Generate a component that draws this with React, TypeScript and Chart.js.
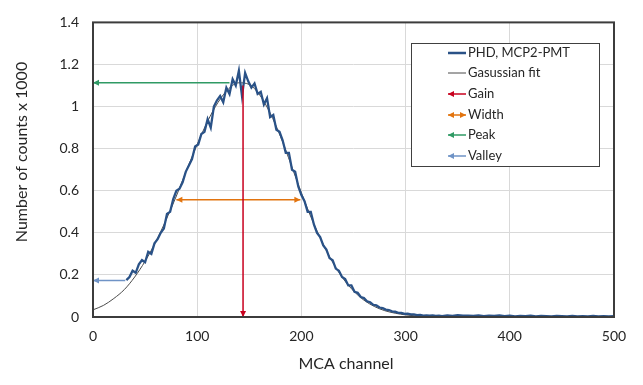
import React, { useEffect, useRef } from 'react';
import { Chart, registerables } from 'chart.js';

Chart.register(...registerables);

// ---------- data ----------
const xTickValues = [0, 100, 200, 300, 400, 500];
const yTickValues = [0, 0.2, 0.4, 0.6, 0.8, 1, 1.2, 1.4];

const legendLabels = ['PHD, MCP2-PMT', 'Gasussian fit', 'Gain', 'Width', 'Peak', 'Valley'];

const fitChannels = [0, 10, 20, 30, 40, 50, 60, 70, 80, 90, 100, 110, 120, 130, 140, 150, 160, 170, 180, 190, 200, 210, 220, 230, 240, 250, 260, 270, 280, 290, 300, 310, 320, 330, 340, 350, 400, 450, 500];
const fitCounts = [0.034, 0.055, 0.088, 0.13, 0.19, 0.265, 0.355, 0.46, 0.575, 0.7, 0.82, 0.93, 1.02, 1.084, 1.113, 1.105, 1.055, 0.969, 0.857, 0.725, 0.59, 0.465, 0.355, 0.26, 0.183, 0.124, 0.08, 0.05, 0.03, 0.018, 0.01, 0.005, 0.003, 0.0015, 0.001, 0, 0, 0, 0];

const phdChannels = [
  32, 35, 38, 41, 44, 47, 50, 53, 56, 59,
  62, 65, 68, 71, 74, 77, 80, 83, 86, 89,
  92, 95, 98, 101, 104, 107, 110, 113, 116, 119,
  122, 125, 128, 131, 134, 137, 140, 143, 146, 149,
  152, 155, 158, 161, 164, 167, 170, 173, 176, 179,
  182, 185, 188, 191, 194, 197, 200, 203, 206, 209,
  212, 215, 218, 221, 224, 227, 230, 233, 236, 239,
  242, 245, 248, 251, 254, 257, 260, 263, 266, 269,
  272, 275, 278, 281, 284, 287, 290, 293, 296, 299,
  302, 305, 308, 311, 314, 317, 320, 323, 326, 329,
  332, 335,
  340, 345, 350, 355, 360, 365, 370, 375, 380, 385,
  390, 395, 400, 405, 410, 415, 420, 425, 430, 435,
  440, 445, 450, 455, 460, 465, 470, 475, 480, 485,
  490, 495, 500,
];
const phdCounts = [
  0.175, 0.19, 0.22, 0.21, 0.25, 0.27, 0.26, 0.31, 0.3, 0.35,
  0.37, 0.4, 0.42, 0.49, 0.5, 0.56, 0.6, 0.61, 0.64, 0.69,
  0.72, 0.75, 0.81, 0.82, 0.87, 0.88, 0.94, 0.9, 1.0, 1.03,
  1.05, 1.02, 1.09, 1.06, 1.13, 1.1, 1.17, 1.05, 1.16, 1.12,
  1.09, 1.11, 1.06, 1.07, 1.01, 1.04, 0.95, 0.96, 0.89, 0.88,
  0.84, 0.78, 0.78, 0.7, 0.69, 0.62, 0.58, 0.55, 0.5, 0.5,
  0.44, 0.4, 0.38, 0.34, 0.32, 0.28, 0.27, 0.23, 0.22, 0.19,
  0.18, 0.15, 0.15, 0.12, 0.115, 0.095, 0.09, 0.075, 0.07, 0.058,
  0.055, 0.045, 0.042, 0.035, 0.033, 0.027, 0.025, 0.02, 0.02, 0.015,
  0.016, 0.012, 0.012, 0.009, 0.01, 0.007, 0.008, 0.006, 0.007, 0.005,
  0.006, 0.004,
  0.008, 0.005, 0.009, 0.006, 0.007, 0.005, 0.008, 0.004, 0.006, 0.005,
  0.007, 0.004, 0.006, 0.003, 0.005, 0.004, 0.006, 0.003, 0.005, 0.004,
  0.003, 0.005, 0.004, 0.003, 0.005, 0.003, 0.004, 0.003, 0.005, 0.003,
  0.004, 0.003, 0.004,
];

// annotation arrows: [start, end] (tip at the end)
const gainX = [144, 144];
const gainY = [1.1, 0];
const widthX = [80, 199];
const widthY = [0.557, 0.557];
const peakX = [131, 0];
const peakY = [1.113, 1.113];
const valleyX = [31, 0];
const valleyY = [0.174, 0.174];

// ---------- styles ----------
const FONT = 'Lato, "Open Sans", sans-serif';
const C_PHD = '#2a5287';
const C_FIT = '#4a4a4a';
const C_GAIN = '#c8001e';
const C_WIDTH = '#e2740f';
const C_PEAK = '#2f9a64';
const C_VALLEY = '#6f93c6';
const C_TEXT = '#262626';

const pts = (xs: number[], ys: number[]) => xs.map((x, i) => ({ x, y: ys[i] }));

function drawHead(ctx: CanvasRenderingContext2D, tx: number, ty: number, fx: number, fy: number, color: string) {
  const a = Math.atan2(ty - fy, tx - fx);
  const len = 6;
  const half = 3;
  const bx = tx - len * Math.cos(a);
  const by = ty - len * Math.sin(a);
  ctx.save();
  ctx.fillStyle = color;
  ctx.beginPath();
  ctx.moveTo(tx, ty);
  ctx.lineTo(bx + half * Math.sin(a), by - half * Math.cos(a));
  ctx.lineTo(bx - half * Math.sin(a), by + half * Math.cos(a));
  ctx.closePath();
  ctx.fill();
  ctx.restore();
}

const decorPlugin = {
  id: 'decor',
  afterDatasetsDraw(chart: any) {
    const ctx: CanvasRenderingContext2D = chart.ctx;
    chart.data.datasets.forEach((ds: any, i: number) => {
      if (!ds.arrowEnd && !ds.arrowStart) return;
      const pts2 = chart.getDatasetMeta(i).data;
      const p0 = pts2[0];
      const p1 = pts2[pts2.length - 1];
      if (ds.arrowEnd) drawHead(ctx, p1.x, p1.y, p0.x, p0.y, ds.borderColor);
      if (ds.arrowStart) drawHead(ctx, p0.x, p0.y, p1.x, p1.y, ds.borderColor);
    });
  },
  afterDraw(chart: any) {
    const ctx: CanvasRenderingContext2D = chart.ctx;
    const a = chart.chartArea;
    ctx.save();
    // frame
    ctx.strokeStyle = '#3c3c3c';
    ctx.lineWidth = 2;
    ctx.strokeRect(a.left, a.top, a.right - a.left, a.bottom - a.top);

    // axis titles
    ctx.fillStyle = C_TEXT;
    ctx.font = `16px ${FONT}`;
    ctx.textAlign = 'center';
    ctx.textBaseline = 'middle';
    ctx.fillText('MCA channel', 346, 364);
    ctx.save();
    ctx.translate(22, 152);
    ctx.rotate(-Math.PI / 2);
    ctx.fillText('Number of counts x 1000', 0, 0);
    ctx.restore();

    // legend
    const lx = 411, ly = 43, lw = 188, lh = 123;
    ctx.fillStyle = '#ffffff';
    ctx.fillRect(lx, ly, lw, lh);
    ctx.strokeStyle = '#404040';
    ctx.lineWidth = 1;
    ctx.strokeRect(lx + 0.5, ly + 0.5, lw, lh);
    const colors = [C_PHD, C_FIT, C_GAIN, C_WIDTH, C_PEAK, C_VALLEY];
    const widths = [2.5, 1, 1.5, 1.5, 1.5, 1.5];
    const rowY = [53, 73, 94, 115, 135, 156];
    const x0 = 448, x1 = 466;
    legendLabels.forEach((lab, i) => {
      const y = rowY[i];
      ctx.strokeStyle = colors[i];
      ctx.lineWidth = widths[i];
      ctx.beginPath();
      ctx.moveTo(x0, y);
      ctx.lineTo(x1, y);
      ctx.stroke();
      if (i >= 2) drawHead(ctx, x0, y, x1, y, colors[i]);
      if (i === 3) drawHead(ctx, x1, y, x0, y, colors[i]);
      ctx.fillStyle = C_TEXT;
      ctx.font = `13px ${FONT}`;
      ctx.textAlign = 'left';
      ctx.textBaseline = 'middle';
      ctx.fillText(lab, 468, y);
    });
    ctx.restore();
  },
};

export default function App() {
  const ref = useRef<HTMLCanvasElement | null>(null);
  useEffect(() => {
    if (!ref.current) return;
    const arrowDs = (label: string, xs: number[], ys: number[], color: string, start: boolean) => ({
      label,
      data: pts(xs, ys),
      borderColor: color,
      backgroundColor: color,
      borderWidth: 1.5,
      pointRadius: 0,
      showLine: true,
      tension: 0,
      order: 0,
      arrowEnd: true,
      arrowStart: start,
      clip: false,
    });
    const chart = new Chart(ref.current, {
      type: 'scatter',
      data: {
        datasets: [
          arrowDs('Gain', gainX, gainY, C_GAIN, false),
          arrowDs('Width', widthX, widthY, C_WIDTH, true),
          arrowDs('Peak', peakX, peakY, C_PEAK, false),
          arrowDs('Valley', valleyX, valleyY, C_VALLEY, false),
          {
            label: 'PHD, MCP2-PMT',
            data: pts(phdChannels, phdCounts),
            borderColor: C_PHD,
            borderWidth: 2.3,
            pointRadius: 0,
            showLine: true,
            tension: 0,
            order: 1,
          },
          {
            label: 'Gasussian fit',
            data: pts(fitChannels, fitCounts),
            borderColor: C_FIT,
            borderWidth: 1,
            pointRadius: 0,
            showLine: true,
            cubicInterpolationMode: 'monotone',
            order: 2,
          },
        ] as any,
      },
      options: {
        responsive: false,
        animation: false,
        layout: { padding: { left: 0, top: 18, right: 29, bottom: 0 } },
        plugins: { legend: { display: false }, tooltip: { enabled: false } },
        scales: {
          x: {
            type: 'linear',
            min: 0,
            max: 500,
            afterFit: (s: any) => { s.height = 68; },
            afterBuildTicks: (s: any) => { s.ticks = xTickValues.map((v) => ({ value: v })); },
            grid: { color: '#d9d9d9', drawTicks: false, lineWidth: 1 },
            border: { display: false },
            ticks: { padding: 11, color: C_TEXT, font: { family: FONT, size: 14 } },
          },
          y: {
            type: 'linear',
            min: 0,
            max: 1.4,
            afterFit: (s: any) => { s.width = 93; },
            afterBuildTicks: (s: any) => { s.ticks = yTickValues.map((v) => ({ value: v })); },
            grid: { color: '#d9d9d9', drawTicks: false, lineWidth: 1 },
            border: { display: false },
            ticks: {
              padding: 14,
              color: C_TEXT,
              font: { family: FONT, size: 14 },
              callback: (v: any) => String(Number(Number(v).toFixed(1))),
            },
          },
        },
      },
      plugins: [decorPlugin],
    } as any);
    return () => chart.destroy();
  }, []);
  return (
    <div style={{ position: 'absolute', left: 0, top: 0, width: 643, height: 385, background: '#fff' }}>
      <canvas ref={ref} width={643} height={385} />
    </div>
  );
}
